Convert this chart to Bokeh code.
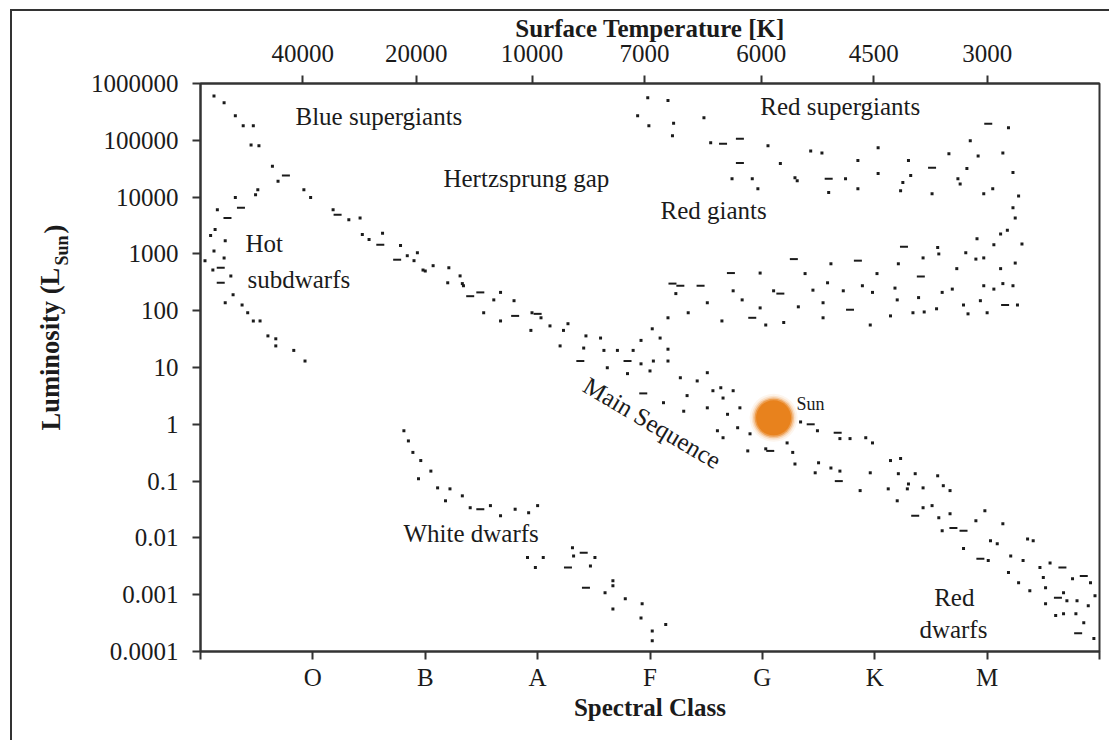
from bokeh.plotting import figure
from bokeh.models import LinearAxis, FixedTicker, Label, Range1d, InlineStyleSheet
from bokeh.embed import file_html
from bokeh.resources import INLINE

# ---- axes ----
spectral_classes = ["O", "B", "A", "F", "G", "K", "M"]
class_pos = [1, 2, 3, 4, 5, 6, 7]
temp_labels = ["40000", "20000", "10000", "7000", "6000", "4500", "3000"]
temp_pos = [0.91, 1.92, 2.95, 3.95, 4.99, 5.99, 7.0]
lum_ticks = [0.0001, 0.001, 0.01, 0.1, 1, 10, 100, 1000, 10000, 100000, 1000000]
lum_labels = ["0.0001", "0.001", "0.01", "0.1", "1", "10", "100", "1000",
              "10000", "100000", "1000000"]

# ---- stars: x = spectral position, lum = luminosity in solar units ----
main_seq_x = [0.12, 0.21, 0.31, 0.38, 0.47, 0.45, 0.52, 0.64, 0.69, 0.92, 0.98, 1.18,
              1.32, 1.42, 1.44, 1.50, 1.62, 1.78, 1.84, 1.93, 1.98, 2.07, 2.21, 2.31,
              2.34, 2.52, 2.61, 1.90, 2.00, 2.20, 2.33, 2.67, 2.79, 2.67, 2.95, 3.03,
              3.11, 2.94, 3.23, 3.27, 3.43, 3.41, 3.20, 3.56, 3.59, 3.71, 3.85, 3.92,
              4.03, 4.16, 4.16, 4.00, 4.27, 3.62, 3.80, 4.12, 4.30, 4.33, 4.42, 4.51,
              4.56, 4.51, 4.63, 4.65, 4.74, 4.80, 4.69, 4.89, 4.87, 5.22, 4.78, 4.60,
              4.65, 5.34, 5.49, 5.78, 5.92, 5.98, 5.69, 5.03, 5.27, 5.50, 5.61, 5.69,
              5.47, 5.29, 5.96, 6.14, 6.23, 6.21, 6.30, 6.36, 5.87, 6.12, 6.29, 6.43,
              6.56, 6.61, 6.67, 6.20, 6.43, 6.51, 6.57, 6.67, 6.60, 6.79, 7.01, 7.03,
              7.14, 7.09, 7.19, 7.28, 7.36, 7.41, 7.32, 7.47, 7.56, 7.50, 7.52, 7.76,
              7.92, 7.68, 7.80, 7.52, 7.68, 7.79, 7.86, 7.95, 7.61, 6.90, 6.98, 7.21,
              7.38, 7.71, 7.90, 7.96]
main_seq_lum = [6.0e5, 4.6e5, 2.7e5, 1.8e5, 1.8e5, 8.3e4, 8.0e4, 3.5e4, 1.9e4, 1.35e4,
                9.8e3, 6.0e3, 4.0e3, 4.3e3, 2.2e3, 1.8e3, 2.3e3, 1.4e3, 930, 1050, 520,
                620, 570, 410, 275, 92, 155, 760, 500, 310, 300, 210, 150, 66, 92, 75,
                54, 45, 45, 59, 36, 22, 24, 33, 20, 20, 20, 11.6, 13, 21, 13, 8.7, 6.6,
                9.9, 7.8, 2.4, 1.7, 3.2, 5.8, 8.1, 3.9, 1.95, 4.4, 2.9, 3.9, 1.95, 1.5,
                0.68, 0.34, 0.47, 0.87, 0.77, 0.58, 1.1, 0.77, 0.56, 0.58, 0.47, 0.56,
                0.37, 0.32, 0.21, 0.17, 0.15, 0.14, 0.20, 0.14, 0.23, 0.25, 0.135,
                0.089, 0.135, 0.068, 0.073, 0.073, 0.076, 0.124, 0.083, 0.068, 0.045,
                0.034, 0.037, 0.0226, 0.0265, 0.0133, 0.0065, 0.004, 0.0089, 0.0178,
                0.0079, 0.00245, 0.00162, 0.0096, 0.0089, 0.004, 0.003, 0.0036, 0.002,
                0.00132, 0.0019, 0.00162, 0.00108, 0.00078, 0.00069, 0.00046, 0.00046,
                0.00032, 0.00017, 0.00043, 0.02, 0.030, 0.0048, 0.00117, 0.00078,
                0.00064, 0.00096]

subdwarf_x = [0.31, 0.51, 0.49, 0.15, 0.13, 0.22, 0.12, 0.21, 0.27, 0.11, 0.29, 0.22,
              0.37, 0.42, 0.47, 0.53, 0.60, 0.67, 0.67, 0.83, 0.93, 0.09, 0.04]
subdwarf_lum = [9.8e3, 1.35e4, 1.1e4, 6.0e3, 2.7e3, 1.7e3, 1.13e3, 850, 410, 520, 190,
                138, 126, 92, 66, 66, 36, 32, 24, 20, 13, 2.1e3, 760]

white_dwarf_x = [1.81, 1.85, 1.89, 1.96, 2.05, 1.94, 2.11, 2.22, 2.18, 2.33, 2.40, 2.58,
                 2.67, 2.80, 2.92, 3.00, 3.31, 3.32, 3.51, 2.91, 3.05, 2.98, 3.47, 3.67,
                 3.67, 3.60, 3.78, 3.93, 3.67, 3.92, 4.14, 4.02, 4.02]
white_dwarf_lum = [0.77, 0.51, 0.32, 0.23, 0.15, 0.11, 0.076, 0.073, 0.045, 0.055, 0.034,
                   0.037, 0.0245, 0.032, 0.0276, 0.037, 0.0067, 0.0048, 0.0045, 0.0045,
                   0.0045, 0.003, 0.0032, 0.00176, 0.00144, 0.00108, 0.00085, 0.00069,
                   0.00056, 0.00039, 0.0003, 0.00023, 0.000155]

giant_x = [4.02, 4.16, 4.23, 4.51, 4.34, 4.74, 4.64, 4.82, 4.98, 5.03, 4.98, 5.10, 5.19,
           5.32, 5.38, 5.45, 5.54, 5.61, 5.58, 5.54, 5.72, 5.89, 5.96, 5.98, 6.02, 6.14,
           6.18, 6.20, 6.21, 6.34, 6.39, 6.43, 6.44, 6.56, 6.57, 6.55, 6.60, 6.69, 6.73,
           6.79, 6.81, 6.83, 6.90, 6.94, 6.97, 6.97, 7.00, 7.06, 7.06, 7.12, 7.14, 7.23,
           7.25, 7.27, 7.31, 7.23, 7.25, 7.18, 7.12, 6.91, 7.28, 3.92, 4.09]
giant_lum = [48, 75, 200, 138, 92, 224, 66, 155, 460, 56, 112, 224, 62, 117, 450, 230,
             138, 670, 310, 75, 224, 275, 56, 210, 450, 81, 250, 155, 670, 92, 170, 850,
             95, 1290, 1000, 108, 210, 240, 550, 126, 1050, 88, 810, 150, 850, 275, 92,
             240, 1450, 550, 300, 275, 690, 126, 1500, 6500, 4300, 2600, 2250, 1850,
             10500, 30, 33]

supergiant_x = [7.19, 6.85, 6.92, 7.14, 6.66, 6.82, 6.74, 6.76, 6.97, 7.05, 7.23, 6.51,
                6.30, 6.32, 6.25, 6.23, 6.03, 6.03, 5.85, 5.85, 5.74, 5.59, 5.53, 5.43,
                5.29, 5.16, 5.05, 4.96, 3.98, 4.16, 3.89, 3.99, 4.21, 4.48, 4.20, 4.54,
                4.73, 4.91, 5.31]
supergiant_lum = [1.66e5, 9.8e4, 5.3e4, 6.0e4, 5.8e4, 3.2e4, 2.1e4, 1.7e4, 1.15e4, 1.4e4,
                  2.7e4, 1.15e4, 4.4e4, 2.4e4, 1.8e4, 1.3e4, 2.6e4, 7.4e4, 4.4e4, 1.4e4,
                  2.1e4, 1.2e4, 6.0e4, 6.5e4, 2.2e4, 3.9e4, 8.0e4, 1.4e4, 5.6e5, 5.0e5,
                  2.7e5, 1.8e5, 2.0e5, 2.5e5, 1.2e5, 9.1e4, 2.1e4, 2.1e4, 1.95e4]

# stars drawn as short streaks
streak_x = [0.76, 1.22, 1.60, 1.75, 2.40, 2.49, 2.80, 3.00, 3.80, 3.38, 3.94, 5.07, 5.43,
            5.67, 5.68, 6.36, 6.70, 6.79, 6.94, 7.67, 7.63, 7.86, 7.81,
            0.36, 0.24, 0.18, 0.18,
            2.49, 3.41, 3.27, 3.43,
            4.20, 4.27, 4.45, 4.72, 4.91, 5.16, 5.28, 5.78, 5.85, 6.26, 6.41, 7.16,
            7.01, 6.51, 5.59, 4.65, 4.80, 4.80]
streak_lum = [2.4e4, 4.9e3, 1.45e3, 790, 180, 210, 81, 88, 13, 13, 3.5, 0.34, 1.0, 0.71,
              0.10, 0.0245, 0.015, 0.0133, 0.0043, 0.003, 0.00088, 0.00214, 0.00021,
              6.5e3, 4.3e3, 570, 310,
              0.032, 0.0055, 0.003, 0.00132,
              300, 275, 275, 460, 75, 200, 810, 104, 760, 1330, 400, 126,
              1.95e5, 3.3e4, 2.1e4, 8.7e4, 1.07e5, 4.0e4]

sun_x = [5.10]
sun_lum = [1.3]

SERIF = "Liberation Serif"
INK = "#1b1b1b"

# thin rules along the top and left edge of the figure box
edge_rule = InlineStyleSheet(css="""
:host { position: relative; }
:host::after {
  content: "";
  position: absolute;
  left: 10px; top: 9px; right: 0; bottom: 0;
  border-left: 2px solid #333333;
  border-top: 2px solid #333333;
  pointer-events: none;
  z-index: 50;
}
""")

p = figure(width=1109, height=740,
           x_range=Range1d(0, 8), y_range=Range1d(0.0001, 1000000),
           y_axis_type="log", output_backend="svg", toolbar_location=None,
           min_border_left=200, min_border_right=10,
           min_border_top=83, min_border_bottom=89,
           background_fill_color="white", border_fill_color=None,
           stylesheets=[edge_rule])
p.grid.visible = False
p.outline_line_color = "#333333"
p.outline_line_width = 2

def style_axis(ax):
    ax.axis_line_color = "#333333"
    ax.axis_line_width = 2
    ax.major_tick_line_color = "#333333"
    ax.major_tick_line_width = 2
    ax.major_tick_out = 8
    ax.major_tick_in = 0
    ax.minor_tick_out = 0
    ax.minor_tick_in = 0
    ax.major_label_text_font = SERIF
    ax.major_label_text_font_size = "25px"
    ax.major_label_text_color = INK
    ax.axis_label_text_font = SERIF
    ax.axis_label_text_font_size = "25px"
    ax.axis_label_text_font_style = "bold"
    ax.axis_label_text_color = INK

# bottom: spectral class
xa = p.xaxis[0]
xa.ticker = FixedTicker(ticks=[0] + class_pos + [8])
overrides = {0: "", 8: ""}
overrides.update(dict(zip(class_pos, spectral_classes)))
xa.major_label_overrides = overrides
xa.axis_label = "Spectral Class"
style_axis(xa)
xa.major_label_standoff = 4
xa.axis_label_standoff = 0

# left: luminosity
ya = p.yaxis[0]
ya.ticker = FixedTicker(ticks=lum_ticks)
ya.major_label_overrides = dict(zip(lum_ticks, lum_labels))
style_axis(ya)
ya.major_label_standoff = 14

# top: surface temperature
ta = LinearAxis(ticker=FixedTicker(ticks=temp_pos),
                major_label_overrides=dict(zip(temp_pos, temp_labels)),
                axis_label="Surface Temperature [K]")
style_axis(ta)
ta.major_label_standoff = 14
ta.axis_label_standoff = 0
p.add_layout(ta, "above")

# stars
for xs, ls in [(main_seq_x, main_seq_lum), (subdwarf_x, subdwarf_lum),
               (white_dwarf_x, white_dwarf_lum), (giant_x, giant_lum),
               (supergiant_x, supergiant_lum)]:
    p.scatter(xs, ls, marker="square", size=3, color=INK, line_width=0)
p.scatter(streak_x, streak_lum, marker="dash", size=8, line_color=INK, line_width=2)

# the Sun, with a soft glow
for size, alpha in [(48, 0.08), (44, 0.15), (41, 0.3), (38, 0.6), (35, 1.0)]:
    p.scatter(sun_x, sun_lum, marker="circle", size=size, fill_color="#e8821d",
              fill_alpha=alpha, line_color=None)

def add_text(x, y, text, size="25px", align="left", angle=0.0):
    p.add_layout(Label(x=x, y=y, text=text, text_font=SERIF, text_font_size=size,
                       text_align=align, text_baseline="middle", angle=angle,
                       text_color=INK))

add_text(0.845, 2.6e5, "Blue supergiants")
add_text(2.162, 2.1e4, "Hertzsprung gap")
add_text(4.093, 5.7e3, "Red giants")
add_text(4.982, 3.9e5, "Red supergiants")
add_text(0.40, 1.5e3, "Hot")
add_text(0.418, 3.6e2, "subdwarfs")
add_text(1.806, 0.0118, "White dwarfs")
add_text(6.708, 8.8e-4, "Red", align="center")
add_text(6.70, 2.4e-4, "dwarfs", align="center")
add_text(4.02, 1.06, "Main Sequence", align="center", angle=-0.534)
add_text(5.303, 2.3, "Sun", size="18px")

# vertical axis title with a subscript, placed in the left margin
def add_side_text(x, y, text, size):
    p.add_layout(Label(x=x, y=y, x_units="screen", y_units="screen", text=text,
                       text_font=SERIF, text_font_size=size, text_font_style="bold",
                       text_align="left", text_baseline="middle", angle=1.5708,
                       text_color=INK), "left")

add_side_text(-7, 221, "Luminosity (L", "26.5px")
add_side_text(24.6, 386, "Sun", "18px")
add_side_text(46, 418, ")", "26.5px")

open("out.html", "w").write(file_html(p, INLINE))
